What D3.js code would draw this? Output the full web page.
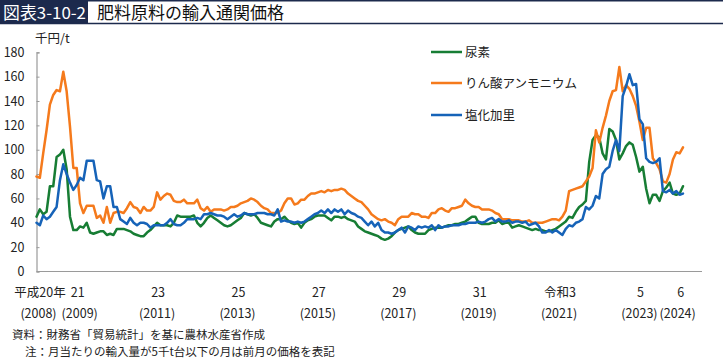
<!DOCTYPE html>
<html lang="ja">
<head>
<meta charset="utf-8">
<script src="https://cdn.jsdelivr.net/npm/d3@7/dist/d3.min.js"></script>
<style>
  html, body { margin: 0; padding: 0; background: #fff; }
  svg { display: block; font-family: "Noto Sans CJK JP", "Noto Sans", sans-serif; }
</style>
</head>
<body>
<svg id="chart" width="723" height="358"></svg>
<script>
// ---- Data (monthly, Jan 2008 = index 0), 千円/t ----
const seriesNames = ["尿素", "りん酸アンモニウム", "塩化加里"];
const seriesColors = ["#177d34", "#f57a1c", "#1663b8"];

const urea = [
  45,51,47,49,70,70,94,96,100,84,45,34,
  34,37,36,40,32,31,32,33,33,30,31,30,
  35,35,35,34,33,31,30,29,29,32,34,37,
  40,38,38,38,37,40,46,45,45,45,45,46,
  40,37,40,44,46,44,42,40,38,37,38,40,
  42,44,48,47,46,47,44,40,39,38,37,41,
  43,43,45,42,40,39,40,36,40,42,43,45,
  46,46,46,44,42,45,45,44,45,43,42,41,
  37,35,33,32,31,30,29,27,26,27,29,32,
  34,35,36,37,34,32,31,31,31,34,35,36,
  36,36,37,38,38,39,39,40,41,43,45,45,
  40,39,39,39,40,40,42,39,40,40,36,37,
  38,37,36,35,34,35,34,34,33,33,34,35,
  37,39,41,45,44,49,53,55,58,90,108,112,
  110,97,92,117,115,108,92,97,103,106,104,94,
  82,86,68,56,63,63,58,66,69,73,64,63,
  64,70
];

const dap = [
  78,77,97,116,137,145,149,148,164,148,119,85,
  85,56,48,54,54,54,44,46,40,53,40,48,
  49,49,48,52,57,53,52,48,53,50,50,53,
  65,59,62,64,63,58,57,57,59,56,56,56,
  59,52,50,53,49,51,51,51,50,51,53,53,
  54,56,57,58,60,59,57,54,52,51,48,48,
  48,50,56,60,60,55,56,59,59,62,64,64,
  65,66,65,67,66,67,67,68,67,64,62,60,
  58,57,54,51,47,45,43,42,43,41,40,38,
  43,45,45,45,48,47,47,45,45,44,48,48,
  51,52,50,49,52,52,53,54,59,56,54,53,
  53,51,51,51,50,48,47,43,43,43,42,42,
  42,41,41,42,40,40,40,40,41,42,43,43,
  42,45,50,66,67,68,69,70,74,78,85,116,
  106,118,128,140,148,149,168,148,153,150,144,136,
  123,108,118,118,93,89,84,74,73,80,92,98,
  97,102
];

const potash = [
  40,38,46,43,45,49,53,75,88,80,73,67,
  71,77,75,91,91,91,75,74,60,70,70,53,
  53,43,41,39,44,40,38,40,40,39,36,38,
  38,38,38,40,43,39,38,38,40,43,43,43,
  44,43,47,47,48,47,46,46,45,43,45,47,
  45,46,48,47,47,47,48,48,48,47,47,46,
  51,41,42,41,41,40,41,40,41,43,45,47,
  48,50,48,51,48,51,49,51,47,50,48,47,
  45,44,41,38,41,37,40,34,32,32,31,32,
  34,36,32,37,36,34,37,36,37,36,38,34,
  38,36,37,37,38,38,38,39,39,40,40,40,
  41,40,41,43,44,41,43,41,41,42,40,41,
  41,40,41,38,39,40,37,32,32,34,32,34,
  32,30,35,38,37,40,41,43,53,51,54,62,
  60,80,84,86,99,108,99,144,152,162,153,154,
  125,121,93,90,89,90,93,66,65,67,64,66,
  63,64
];

const seriesValues = [urea, dap, potash];

// axis tick labels
const yTicks = [0, 20, 40, 60, 80, 100, 120, 140, 160, 180];
const tickYears = [2008, 2009, 2011, 2013, 2015, 2017, 2019, 2021, 2023, 2024];
const eraLabels = ["平成20年", "21", "23", "25", "27", "29", "31", "令和3", "5", "6"];
const adLabels = ["(2008)", "(2009)", "(2011)", "(2013)", "(2015)", "(2017)", "(2019)", "(2021)", "(2023)", "(2024)"];

const titleBadge = "図表3-10-2";
const titleText = "肥料原料の輸入通関価格";
const unitText = "千円/t";
const noteLines = ["資料：財務省「貿易統計」を基に農林水産省作成",
                   "注：月当たりの輸入量が5千t台以下の月は前月の価格を表記"];

// ---- Drawing ----
const svg = d3.select("#chart");
const W = 723, H = 358;
const navy = "#1c2a4d";
const textColor = "#222";

// Title
svg.append("rect").attr("x", 0).attr("y", 0).attr("width", 88).attr("height", 24).attr("fill", navy);
svg.append("line").attr("x1", 0).attr("x2", W).attr("y1", 0.75).attr("y2", 0.75)
  .attr("stroke", navy).attr("stroke-width", 1.5);
svg.append("line").attr("x1", 0).attr("x2", W).attr("y1", 23.5).attr("y2", 23.5)
  .attr("stroke", navy).attr("stroke-width", 1.5);
svg.append("text").attr("x", 3).attr("y", 19).attr("fill", "#fff")
  .attr("font-size", 16.5).attr("textLength", 83).attr("lengthAdjust", "spacingAndGlyphs")
  .text(titleBadge);
svg.append("text").attr("x", 97).attr("y", 19).attr("fill", "#111")
  .attr("font-size", 17).text(titleText);

// Scales
const nMonths = urea.length;
const x = d3.scaleLinear().domain([0, nMonths - 1]).range([36.5, 683]);
const y = d3.scaleLinear().domain([0, 180]).range([271.5, 52.3]);

// Y axis
const yAxis = d3.axisLeft(y).tickValues(yTicks).tickSize(-3).tickPadding(12);
const gy = svg.append("g").attr("transform", "translate(36.5,0)").call(yAxis);
gy.select(".domain").attr("stroke", "#9a9a9a").attr("stroke-width", 1.2);
gy.selectAll(".tick line").attr("stroke", "#9a9a9a");
gy.selectAll(".tick text").attr("font-size", 12.5).attr("fill", textColor)
  .attr("font-family", "'Noto Sans CJK JP', sans-serif");

// X axis baseline
svg.append("line").attr("x1", 36.5).attr("x2", 702).attr("y1", y(0)).attr("y2", y(0))
  .attr("stroke", "#9a9a9a").attr("stroke-width", 1.2);

// Unit label
svg.append("text").attr("x", 35).attr("y", 43).attr("font-size", 12.5).attr("fill", textColor).text(unitText);

// X labels
const monthOf = yr => (yr - 2008) * 12;
const xl = svg.append("g").attr("font-size", 12.5).attr("fill", textColor).attr("text-anchor", "middle");
tickYears.forEach((yr, i) => {
  let cx = x(monthOf(yr));
  xl.append("text").attr("x", i === 0 ? cx + 3.5 : cx + 1).attr("y", 297).text(eraLabels[i]);
  let dx = 0;
  if (i === 0) dx = 2; else if (i === 1) dx = 3; else if (i === tickYears.length - 1) dx = -2;
  xl.append("text").attr("x", cx + dx).attr("y", 318).text(adLabels[i]);
});

// Lines
const line = d3.line().x((d, i) => x(i)).y(d => y(d));
seriesValues.forEach((vals, k) => {
  svg.append("path").datum(vals).attr("d", line)
    .attr("fill", "none").attr("stroke", seriesColors[k]).attr("stroke-width", 2.5)
    .attr("stroke-linejoin", "round").attr("stroke-linecap", "round");
});

// Legend
const legendY = [52, 83, 115];
seriesNames.forEach((name, k) => {
  svg.append("line").attr("x1", 431).attr("x2", 462).attr("y1", legendY[k]).attr("y2", legendY[k])
    .attr("stroke", seriesColors[k]).attr("stroke-width", 2.5);
  svg.append("text").attr("x", 465).attr("y", legendY[k] + 4.5).attr("font-size", 12.5)
    .attr("fill", textColor).text(name);
});

// Notes
svg.append("text").attr("x", 12).attr("y", 339).attr("font-size", 11.5).attr("fill", textColor).text(noteLines[0]);
svg.append("text").attr("x", 25).attr("y", 356).attr("font-size", 11.5).attr("fill", textColor).text(noteLines[1]);
</script>
</body>
</html>
